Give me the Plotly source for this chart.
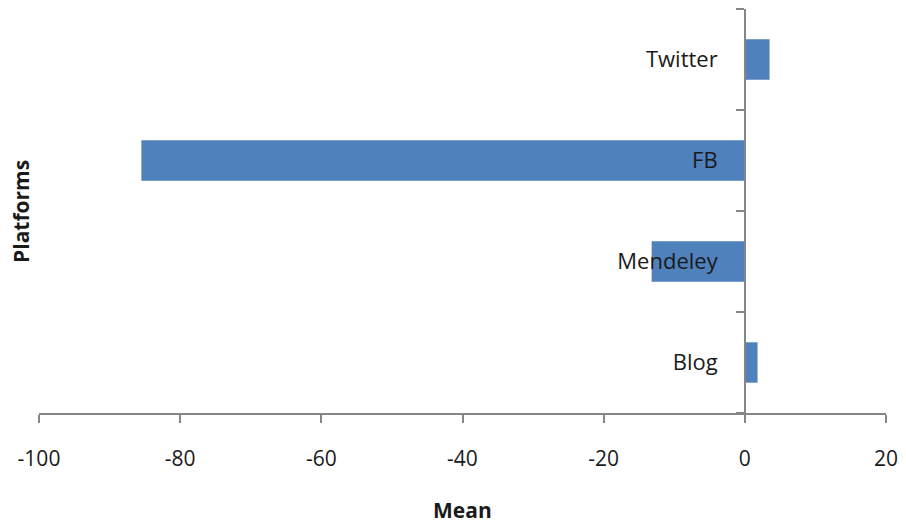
import plotly.graph_objects as go

platforms = ["Blog", "Mendeley", "FB", "Twitter"]
means = [1.8, -13.2, -85.5, 3.5]
x_ticks = [-100, -80, -60, -40, -20, 0, 20]
x_tick_labels = ["-100", "-80", "-60", "-40", "-20", "0", "20"]

FONT = "Open Sans"
TXT = "#1a1a1a"
AX = "#868686"

fig = go.Figure(go.Bar(
    y=platforms, x=means, orientation="h",
    marker=dict(color="#4F81BD", line=dict(width=0)),
))

fig.update_layout(
    width=898, height=519,
    margin=dict(l=31, r=20, t=1, b=114),
    paper_bgcolor="white", plot_bgcolor="white",
    bargap=0.6, showlegend=False,
    font=dict(family=FONT, size=22, color=TXT),
    xaxis=dict(
        range=[-100, 20], tickvals=x_ticks, ticktext=x_tick_labels,
        showgrid=False, zeroline=False,
        showline=True, linecolor=AX, linewidth=1.5,
        ticks="outside", ticklen=8, tickcolor=AX, tickwidth=1.5,
        ticklabelstandoff=18,
        tickfont=dict(family=FONT, size=21, color=TXT),
    ),
    yaxis=dict(
        anchor="free", position=100 / 120,
        categoryorder="array", categoryarray=platforms,
        showgrid=False, zeroline=False,
        showline=True, linecolor=AX, linewidth=1.5,
        ticks="outside", tickson="boundaries", ticklen=8, tickcolor=AX, tickwidth=1.5,
        ticklabelstandoff=22,
        tickfont=dict(family=FONT, size=22, color=TXT),
        layer="above traces",
    ),
    annotations=[
        dict(text="<b>Mean</b>", xref="paper", yref="paper", x=0.5, y=-0.24,
             showarrow=False, xanchor="center", yanchor="middle",
             font=dict(family=FONT, size=21, color=TXT)),
        dict(text="<b>Platforms</b>", xref="paper", yref="paper", x=-0.0213, y=0.5,
             showarrow=False, xanchor="center", yanchor="middle", textangle=-90,
             font=dict(family=FONT, size=21, color=TXT)),
    ],
)

fig.write_html("out.html")
